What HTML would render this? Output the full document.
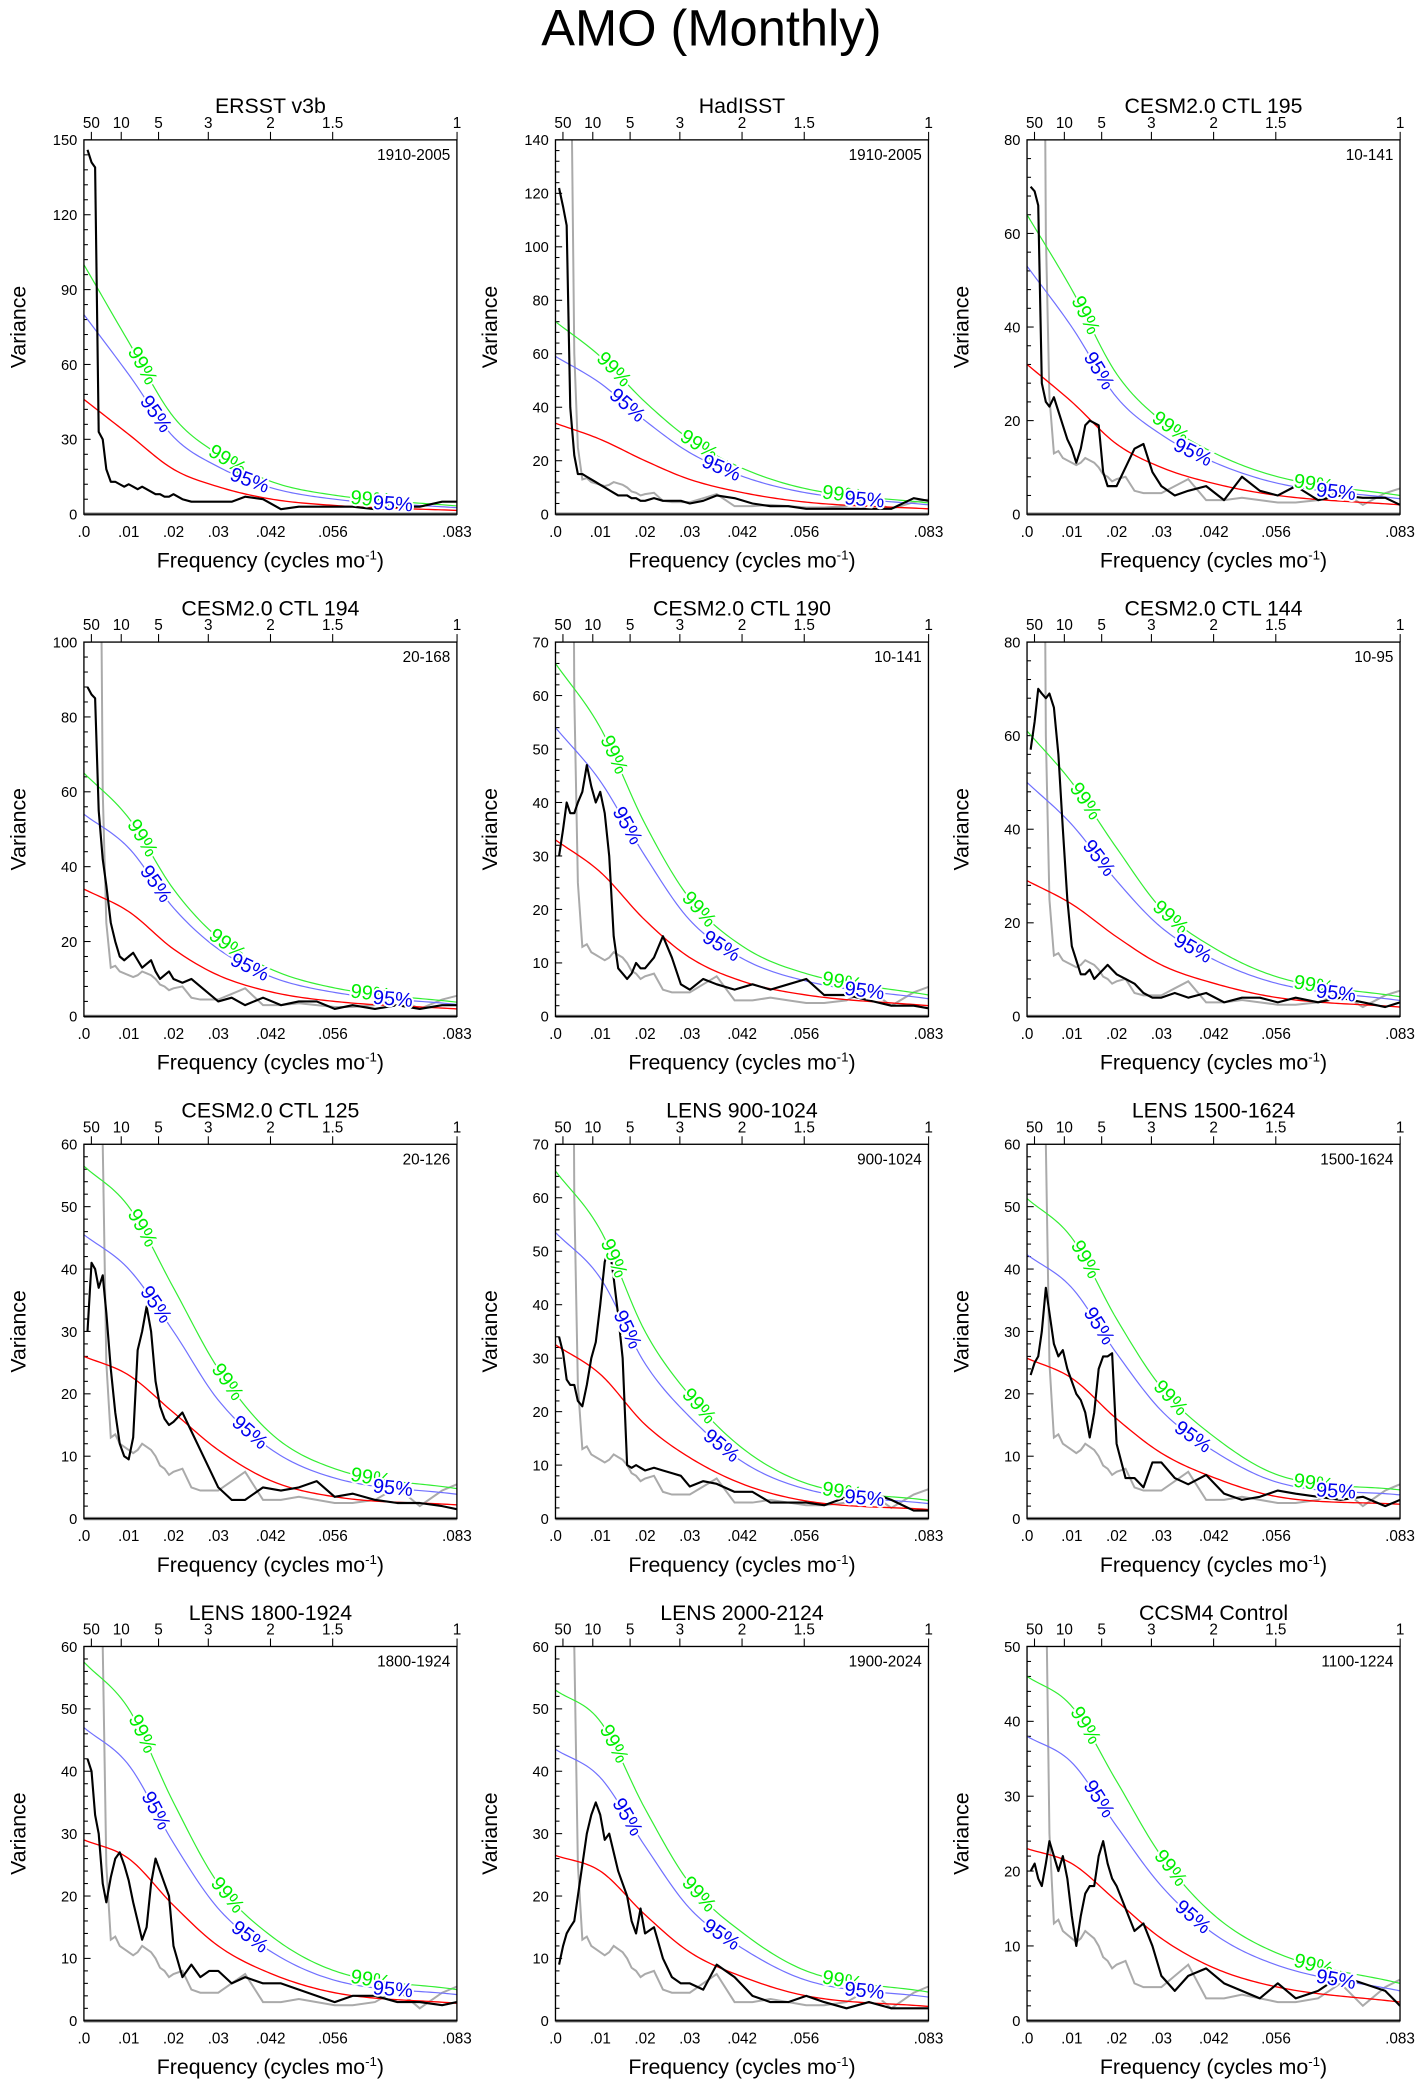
<!DOCTYPE html>
<html><head><meta charset="utf-8"><style>
html,body{margin:0;padding:0;background:#fff;}
svg{display:block;font-family:"Liberation Sans",Arial,sans-serif;}
</style></head><body>
<svg id="fig" width="1424" height="2091" viewBox="0 0 1069 1569.7" preserveAspectRatio="none" xmlns="http://www.w3.org/2000/svg">
<text x="534" y="34" font-size="38" text-anchor="middle">AMO (Monthly)</text>
</svg>
<script>
const freqGrid = [0.0008,0.0017,0.0025,0.0033,0.0042,0.005,0.006,0.007,0.008,0.009,0.010,0.011,0.012,0.013,0.014,0.015,0.016,0.017,0.018,0.019,0.020,0.022,0.024,0.026,0.028,0.030,0.033,0.036,0.040,0.044,0.048,0.052,0.056,0.060,0.065,0.070,0.075,0.080,0.0833];
const grayValues = [200,200,200,200,60,25,13,13.5,12,11.5,11,10.5,11,12,11.5,11,10,8.5,8,7,7.5,8,5,4.5,4.5,4.5,6,7.5,3,3,3.5,3,2.5,2.5,3,5,2,4.5,5.5];
const curveFreqs = [0,0.01,0.02,0.03,0.042,0.056,0.0833];
const titles = ["ERSST v3b","HadISST","CESM2.0 CTL 195","CESM2.0 CTL 194","CESM2.0 CTL 190","CESM2.0 CTL 144","CESM2.0 CTL 125","LENS 900-1024","LENS 1500-1624","LENS 1800-1924","LENS 2000-2124","CCSM4 Control"];
const yearRanges = ["1910-2005","1910-2005","10-141","20-168","10-141","10-95","20-126","900-1024","1500-1624","1800-1924","1900-2024","1100-1224"];
const yMaxes = [150,140,80,100,70,80,60,70,60,60,60,50];
const yMajorSteps = [30,20,20,20,10,20,10,10,10,10,10,10];
const showGray = [false,true,true,true,true,true,true,true,true,true,true,true];
const blackValues = [
[146,141,139,33,30,18,13,13,12,11,12,11,10,11,10,9,8,8,7,7,8,6,5,5,5,5,5,7,6,2,3,3,3,3,2,3,3,5,5],
[122,115,108,40,22,15,15,14,13,12,11,10,9,8,7,7,7,6,6,5,5,6,5,5,5,4,5,7,6,4,3,3,2,2,2,2,2,6,5],
[70,69,66,28,24,23,25,22,19,16,14,11,14,19,20,19.5,19,9,6,6,6,10,14,15,9,6,4,5,6,3,8,5,4,6,3,4,3.5,3.5,2],
[88,86,85,55,42,35,25,20,16,15,16,17,15,13,14,15,12,10,11,12,10,9,10,8,6,4,5,3,5,3,4,4,2,3,2,3,2,3,3],
[30,35,40,38,38,40,42,47,43,40,42,38,30,15,9,8,7,8,10,9,9,11,15,11,6,5,7,6,5,6,5,6,7,4,4,3,2,2,1.5],
[57,63,70,69,68,69,66,56,40,25,15,12,9,9,10,8,9,10,11,10,9,8,7,5,4,4,5,4,5,3,4,4,3,4,3,4,3,2,3],
[30,41,40,37,39,33,24,17,12,10,9.5,13,27,30,34,30,22,18,16,15,15.5,17,14,11,8,5,3,3,5,4.5,5,6,3.5,4,3,2.5,2.5,2,1.5],
[34,31,26,25,25,22,21,25,30,33,40,48,51,45,38,30,10,9.5,10,9.5,9,9.5,9,8.5,8,6,7,6.5,5,5,3,3,3,2.5,4,5,3.5,1.5,1.5],
[23,25,26,30,37,33,28,26,27,24,22,20,19,17,13,17,24,26,26,26.5,12,6.5,6.5,5,9,9,6.5,5.5,7,4,3,3.5,4.5,4,3.5,3,3.5,2,3],
[42,40,33,30,22,19,23,26,27,25,22.5,19,16,13,15,22,26,24,22,20,12,7,9,7,8,8,6,7,6,6,5,4,3,4,4,3,3,2.5,3],
[9,12,14,15,16,20,25,30,33,35,33,29,30,27,24,22,20,16,14,18,14,15,10,7,6,6,5,9,7,4,3,3,4,3,2,3,2,2,2],
[20,21,19,18,21,24,22,20,22,19,14,10,14,17,18,18,22,24,21,19,18,15,12,13,10,6,4,6,7,5,4,3,5,3,4,6,5,4,2]
];
const redValues = [
[46,32,18,11,6,3.5,1.5],[34,28,20,13,8,4.5,2],[32,24,15,10,6.5,4,2],[34,28,18,11,6.5,4,2],
[33,27,18,11,6.5,4,2],[29,24,17,11,7,4,2],[26,23,17,11,6,3.5,2.2],[32.5,27,17.6,11.4,6.4,3.3,1.7],
[25.7,22.5,16,10.5,6.5,3.5,2.3],[29,26,18.5,12,7.5,4.5,2.8],[26.5,24,17,11,7,4,2.3],[23,21,16,11,7,4.5,2.5]
];
const blueValues = [
[80,56,31,19,10.5,6,2.6],[59,49,35,23,14,8,3.5],[53,40,25,17,11,6.6,3.3],[54,45,29,18,10.5,6.4,3.2],
[54,44,30,18,10.7,6.6,3.3],[50,41,29,19,12,7,3.4],[45.5,40,30,19,11,6.5,3.9],[53.5,45,29,19,10.5,5.5,2.8],
[42.3,37,26.5,17.3,10.7,5.8,3.8],[47,41,28.5,18,11,6.5,4.2],[43.5,39,28,18,11.5,6.5,3.8],[38,34.5,26,18,11.5,7.4,4]
];
const greenValues = [
[100,69,39,24,13,7.6,3.3],[72,59,42,28,17,9.5,4.2],[64,48,30,20,13,8,4],[65,53,34,21,12.5,7.6,3.8],
[66,54,36,22,13,8,4],[61,50,36,23,14.5,8.4,4.2],[56.5,50,37,24,13.5,8,4.8],[65,54,35,23,13,6.6,3.4],
[51.3,45,32,21,13,7,4.6],[57.5,50,35,22,13.5,8,5],[53,48,34,22,14,8,4.6],[46,42,32,22,14,9,5]
];
const bottomTickLabels = [".0",".01",".02",".03",".042",".056",".083"];
const bottomTickFreqs = [0,0.01,0.02,0.03,0.0417,0.0556,0.0833];
const topPeriods = [50,10,5,3,2,1.5,1];
const topPeriodLabels = ["50","10","5","3","2","1.5","1"];
const greenLabelFreqs = [0.013,0.032,0.064];
const blueLabelFreqs = [0.016,0.037,0.069];

const NS = "http://www.w3.org/2000/svg";
const svg = document.getElementById('fig');
const colX = [63,417,771], rowY = [105,482,859,1236], PW = 280, PH = 281, FMAX = 0.0833;

function mk(tag, attrs, parent){ const e = document.createElementNS(NS, tag); for (const k in attrs) e.setAttribute(k, attrs[k]); parent.appendChild(e); return e; }

function monotone(xs, ys){
  const n = xs.length, d = [], m = [];
  for (let i=0;i<n-1;i++) d.push((ys[i+1]-ys[i])/(xs[i+1]-xs[i]));
  m[0]=d[0]; m[n-1]=d[n-2];
  for (let i=1;i<n-1;i++) m[i] = d[i-1]*d[i]<=0 ? 0 : (d[i-1]+d[i])/2;
  for (let i=0;i<n-1;i++){
    if (d[i]===0){ m[i]=0; m[i+1]=0; continue; }
    const a=m[i]/d[i], b=m[i+1]/d[i], s=a*a+b*b;
    if (s>9){ const t=3/Math.sqrt(s); m[i]=t*a*d[i]; m[i+1]=t*b*d[i]; }
  }
  return function(x){
    let i=0; while (i<n-2 && x>xs[i+1]) i++;
    const h=xs[i+1]-xs[i], t=(x-xs[i])/h, t2=t*t, t3=t2*t;
    return (2*t3-3*t2+1)*ys[i] + (t3-2*t2+t)*h*m[i] + (-2*t3+3*t2)*ys[i+1] + (t3-t2)*h*m[i+1];
  };
}

for (let p=0;p<12;p++){
  const x0 = colX[p%3], y0 = rowY[Math.floor(p/3)], ymax = yMaxes[p];
  const sx = f => x0 + f/FMAX*PW;
  const sy = v => y0 + PH - v/ymax*PH;
  const g = mk('g', {}, svg);
  
  
  const cid = 'clip'+p;
  const cp = mk('clipPath', {id:cid}, g);
  mk('rect', {x:x0, y:y0, width:PW, height:PH}, cp);

  const title = mk('text', {x:x0+PW/2, y:y0-20, 'font-size':16, 'text-anchor':'middle'}, g);
  title.textContent = titles[p];
  
  

  const yr = mk('text', {x:x0+PW-5, y:y0+15, 'font-size':11.5, 'text-anchor':'end'}, g);
  yr.textContent = yearRanges[p];
  
  

  const step = yMajorSteps[p], minor = step/5;
  for (let v=0; v<=ymax+1e-9; v+=minor){
    const isMaj = Math.abs(v/step - Math.round(v/step))<1e-6;
    mk('line', {x1:x0, x2:x0+(isMaj?5:3), y1:sy(v), y2:sy(v), stroke:'#000', 'stroke-width':0.8}, g);
  }
  for (let v=0; v<=ymax+1e-9; v+=step){
    const t = mk('text', {x:x0-5, y:sy(v)+4, 'font-size':11, 'text-anchor':'end'}, g);
    t.textContent = String(v);
    
    
  }
  const yt = mk('text', {x:0, y:0, 'font-size':16, 'text-anchor':'middle', transform:'translate('+(x0-44)+','+(y0+PH/2)+') rotate(-90)'}, g);
  yt.textContent = 'Variance';
  
  

  for (let i=0;i<bottomTickFreqs.length;i++){
    const t = mk('text', {x:sx(bottomTickFreqs[i]), y:y0+PH+17, 'font-size':11.5, 'text-anchor':'middle'}, g);
    t.textContent = bottomTickLabels[i];
    
    
  }
  const xt = mk('text', {x:x0+PW/2, y:y0+PH+40, 'font-size':16, 'text-anchor':'middle'}, g);
  xt.innerHTML = 'Frequency (cycles mo<tspan dy="-6" font-size="10">-1</tspan><tspan dy="6">)</tspan>';
  
  

  for (let i=0;i<topPeriods.length;i++){
    const fx = sx(1/(12*topPeriods[i]));
    mk('line', {x1:fx, x2:fx, y1:y0, y2:y0-6, stroke:'#000', 'stroke-width':0.8}, g);
    const t = mk('text', {x:fx, y:y0-9, 'font-size':11.5, 'text-anchor':'middle'}, g);
    t.textContent = topPeriodLabels[i];
    
    
  }

  const pc = mk('g', {'clip-path':'url(#'+cid+')'}, g);
  if (showGray[p]){
    const pts = freqGrid.map((f,i)=>sx(f).toFixed(2)+','+sy(grayValues[i]).toFixed(2)).join(' ');
    const gl = mk('polyline', {points:pts, fill:'none', stroke:'#aaaaaa', 'stroke-width':1.5}, pc);
    
    
  }
  const curves = [[redValues[p],'#ff0000',1,'red-noise-line'],[blueValues[p],'#7070ff',0.9,'confidence-95-line'],[greenValues[p],'#33ee33',0.9,'confidence-99-line']];
  const fns = [];
  for (const c of curves){
    const fn = monotone(curveFreqs, c[0]); fns.push(fn);
    let pts = [];
    for (let k=0;k<=120;k++){ const f = FMAX*k/120; pts.push(sx(f).toFixed(2)+','+sy(fn(f)).toFixed(2)); }
    const l = mk('polyline', {points:pts.join(' '), fill:'none', stroke:c[1], 'stroke-width':c[2]}, pc);
    
    
  }
  const bpts = freqGrid.map((f,i)=>sx(f).toFixed(2)+','+sy(blackValues[p][i]).toFixed(2)).join(' ');
  const bl = mk('polyline', {points:bpts, fill:'none', stroke:'#000', 'stroke-width':1.6, 'stroke-linejoin':'round'}, pc);
  
  

  const lab = [[fns[2], greenLabelFreqs, '99%', '#00ee00', 'label-99'], [fns[1], blueLabelFreqs, '95%', '#0000ee', 'label-95']];
  for (const L of lab){
    for (const f of L[1]){
      const px = sx(f), py = sy(L[0](f));
      const dx = sx(f+0.001)-sx(f-0.001), dy = sy(L[0](f+0.001))-sy(L[0](f-0.001));
      const ang = Math.atan2(dy,dx)*180/Math.PI;
      const t = mk('text', {x:0, y:0, 'font-size':15, fill:L[3], 'text-anchor':'middle', 'dominant-baseline':'central', stroke:'#fff', 'stroke-width':3, 'paint-order':'stroke', transform:'translate('+px.toFixed(1)+','+py.toFixed(1)+') rotate('+ang.toFixed(1)+')'}, pc);
      t.textContent = L[2];
      
      
    }
  }
  mk('line', {x1:x0, x2:x0+PW, y1:y0+PH, y2:y0+PH, stroke:'#888', 'stroke-width':2.5}, g);
  mk('rect', {x:x0, y:y0, width:PW, height:PH, fill:'none', stroke:'#000', 'stroke-width':1}, g);
}
</script>
</body></html>
